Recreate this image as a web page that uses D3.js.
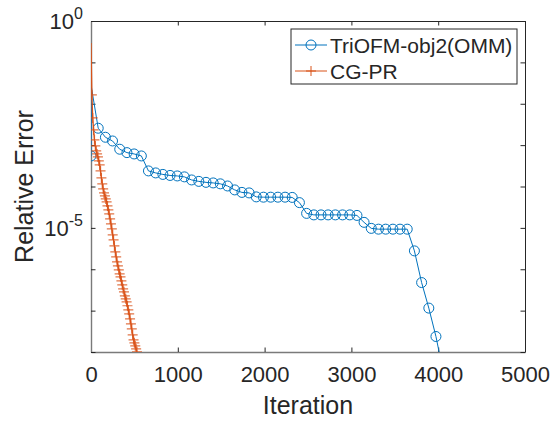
<!DOCTYPE html>
<html><head><meta charset="utf-8">
<script src="https://cdn.jsdelivr.net/npm/d3@7"></script>
<style>
html,body{margin:0;padding:0;background:#fff;}
text{font-family:"Liberation Sans",Arial,Helvetica,sans-serif;fill:#262626;}
</style></head>
<body><svg id="c" width="554" height="422"></svg>
<script>
// ---- data ----
const xTicks = [0, 1000, 2000, 3000, 4000, 5000];
const yTicks = [1e0, 1e-1, 1e-2, 1e-3, 1e-4, 1e-5, 1e-6, 1e-7, 1e-8];
const yTickLabels = {"0": "0", "-5": "-5"};
const seriesNames = ["TriOFM-obj2(OMM)", "CG-PR"];

// TriOFM-obj2(OMM): marker points (iteration, relative error)
const triIter = [0, 83, 166, 248, 331, 414, 497, 580, 662, 745, 828, 911, 994, 1076, 1159, 1242,
  1325, 1408, 1490, 1573, 1656, 1739, 1822, 1904, 1987, 2070, 2153, 2236, 2318, 2401, 2484, 2567,
  2650, 2732, 2815, 2898, 2981, 3064, 3146, 3229, 3312, 3395, 3478, 3560, 3643, 3726, 3809, 3892, 3974];
const triErr = [5.48e-4, 2.56e-3, 1.55e-3, 1.26e-3, 7.96e-4, 6.59e-4, 6.12e-4, 5.48e-4, 2.38e-4, 2.13e-4,
  1.96e-4, 1.85e-4, 1.80e-4, 1.71e-4, 1.44e-4, 1.33e-4, 1.26e-4, 1.22e-4, 1.16e-4, 1.03e-4,
  8.27e-5, 7.2e-5, 7.0e-5, 5.61e-5, 5.52e-5, 5.52e-5, 5.52e-5, 5.52e-5, 5.45e-5, 4.08e-5,
  2.24e-5, 2.06e-5, 2.06e-5, 2.06e-5, 2.06e-5, 2.06e-5, 2.06e-5, 2.0e-5, 1.36e-5, 9.73e-6,
  9.31e-6, 9.31e-6, 9.31e-6, 9.31e-6, 9.31e-6, 2.78e-6, 4.77e-7, 1.15e-7, 2.37e-8];
// extra line-only points of TriOFM (initial jump and final drop)
const triStartIter = [0, 5], triStartErr = [5.48e-4, 2.5e-2];
const triEndIter = [4020], triEndErr = [8e-9];

// CG-PR (iteration, relative error); first point has no marker
const cgIter = [0, 10, 20, 30, 40, 50, 60, 70, 80, 90, 100, 110, 120, 130, 140, 150, 160, 170, 180, 190,
  200, 210, 220, 230, 240, 250, 260, 270, 280, 290, 300, 310, 320, 330, 340, 350, 360, 370, 380, 390,
  400, 410, 420, 430, 440, 450, 460, 470, 480, 490, 500, 510, 520, 530];
const cgErr = [2.94e-1, 1.63e-2, 4.54e-3, 2.33e-3, 1.34e-3, 9.57e-4, 7.25e-4, 6.12e-4, 5.19e-4, 4.15e-4,
  3.32e-4, 2.38e-4, 1.61e-4, 1.16e-4, 8.75e-5, 7.0e-5, 5.93e-5, 5.01e-5, 4.25e-5, 3.40e-5,
  2.72e-5, 2.18e-5, 1.65e-5, 1.25e-5, 9.46e-6, 6.78e-6, 5.13e-6, 3.67e-6, 2.63e-6, 2.0e-6,
  1.51e-6, 1.21e-6, 9.68e-7, 7.74e-7, 6.55e-7, 5.25e-7, 4.20e-7, 3.36e-7, 2.85e-7, 2.28e-7,
  1.93e-7, 1.63e-7, 1.31e-7, 1.04e-7, 8.37e-8, 6.34e-8, 4.80e-8, 3.63e-8, 2.60e-8, 1.97e-8,
  1.67e-8, 1.41e-8, 1.19e-8, 1.01e-8];

// ---- layout ----
const L = 91, R = 525, T = 21, B = 352;
const blue = "#0072BD", orange = "#D95319", axisCol = "#262626";

const svg = d3.select("#c");
svg.append("rect").attr("width", 554).attr("height", 422).attr("fill", "#fff");

const x = d3.scaleLinear().domain([0, 5000]).range([L, R]);
const y = d3.scaleLog().domain([1e-8, 1]).range([B, T]);

svg.append("defs").append("clipPath").attr("id", "clip")
  .append("rect").attr("x", L).attr("y", T).attr("width", R - L).attr("height", B - T);

const tickLen = 4.5;
const gb = svg.append("g").attr("transform", `translate(0,${B})`)
  .call(d3.axisBottom(x).tickValues(xTicks).tickSizeInner(-tickLen).tickSizeOuter(0).tickFormat(d3.format("d")));
gb.selectAll("text").attr("y", 30).attr("dy", null).style("font-size", "22px");
const gt = svg.append("g").attr("transform", `translate(0,${T})`)
  .call(d3.axisTop(x).tickValues(xTicks).tickSizeInner(-tickLen).tickSizeOuter(0).tickFormat(""));
const gl = svg.append("g").attr("transform", `translate(${L},0)`)
  .call(d3.axisLeft(y).tickValues(yTicks).tickSizeInner(-tickLen).tickSizeOuter(0).tickFormat(""));
const gr = svg.append("g").attr("transform", `translate(${R},0)`)
  .call(d3.axisRight(y).tickValues(yTicks).tickSizeInner(-tickLen).tickSizeOuter(0).tickFormat(""));

[gb, gt, gl, gr].forEach(g => {
  g.select(".domain").attr("stroke", axisCol).attr("stroke-width", 1);
  g.selectAll(".tick line").attr("stroke", axisCol).attr("stroke-width", 1);
  g.selectAll("text").attr("fill", axisCol).style("font-family", "'Liberation Sans',Arial,sans-serif");
});
gb.select(".domain").attr("stroke", "#7a7a7a").attr("stroke-width", 1.4);
gl.select(".domain").attr("stroke", "#7a7a7a").attr("stroke-width", 1.4);

yTicks.forEach(v => {
  const e = Math.round(Math.log10(v));
  const lab = yTickLabels[String(e)];
  if (lab === undefined) return;
  const t = svg.append("text").attr("x", L - 8).attr("y", y(v) + 8)
    .attr("text-anchor", "end").style("font-size", "22px");
  t.append("tspan").text("10");
  t.append("tspan").attr("dy", -10).style("font-size", "16px").text(lab);
});

svg.append("text").attr("x", (L + R) / 2).attr("y", 414).attr("text-anchor", "middle")
  .style("font-size", "25px").text("Iteration");
svg.append("text").attr("transform", `translate(33,${(T + B) / 2}) rotate(-90)`)
  .attr("text-anchor", "middle").style("font-size", "25px").text("Relative Error");

// ---- series ----
const plot = svg.append("g").attr("clip-path", "url(#clip)");
const line = d3.line().x(d => x(d[0])).y(d => y(d[1]));

const triPts = triIter.map((t, i) => [t, triErr[i]]);
const triLine = triStartIter.map((t, i) => [t, triStartErr[i]])
  .concat(triPts.slice(1))
  .concat(triEndIter.map((t, i) => [t, triEndErr[i]]));
const cgPts = cgIter.map((t, i) => [t, cgErr[i]]);

plot.append("path").datum(triLine).attr("d", line).attr("fill", "none")
  .attr("stroke", blue).attr("stroke-width", 1);
plot.selectAll("circle.tri").data(triPts).join("circle").attr("class", "tri")
  .attr("cx", d => x(d[0])).attr("cy", d => y(d[1])).attr("r", 5)
  .attr("fill", "none").attr("stroke", blue).attr("stroke-width", 1);

plot.append("path").datum(cgPts).attr("d", line).attr("fill", "none")
  .attr("stroke", orange).attr("stroke-width", 1.3);
const pl = 5;
plot.selectAll("path.cg").data(cgPts.slice(1)).join("path").attr("class", "cg")
  .attr("d", d => `M${x(d[0]) - pl},${y(d[1])}H${x(d[0]) + pl}M${x(d[0])},${y(d[1]) - pl}V${y(d[1]) + pl}`)
  .attr("stroke", orange).attr("stroke-width", 1.2).attr("stroke-opacity", 0.8).attr("fill", "none");

// ---- legend ----
const lg = svg.append("g");
lg.append("rect").attr("x", 291).attr("y", 29).attr("width", 226).attr("height", 55)
  .attr("fill", "#fff").attr("stroke", axisCol).attr("stroke-width", 1);
const rows = [{name: seriesNames[0], c: blue, m: "o", yy: 45}, {name: seriesNames[1], c: orange, m: "+", yy: 71}];
rows.forEach(r => {
  lg.append("line").attr("x1", 295).attr("x2", 327).attr("y1", r.yy).attr("y2", r.yy)
    .attr("stroke", r.c).attr("stroke-width", 1);
  if (r.m === "o") lg.append("circle").attr("cx", 311).attr("cy", r.yy).attr("r", 5)
    .attr("fill", "none").attr("stroke", r.c);
  else lg.append("path").attr("d", `M${311 - pl},${r.yy}H${311 + pl}M311,${r.yy - pl}V${r.yy + pl}`)
    .attr("stroke", r.c).attr("fill", "none");
  lg.append("text").attr("x", 330).attr("y", r.yy).attr("dy", "0.36em")
    .style("font-size", "21px").attr("fill", "#000").text(r.name);
});
</script></body></html>
